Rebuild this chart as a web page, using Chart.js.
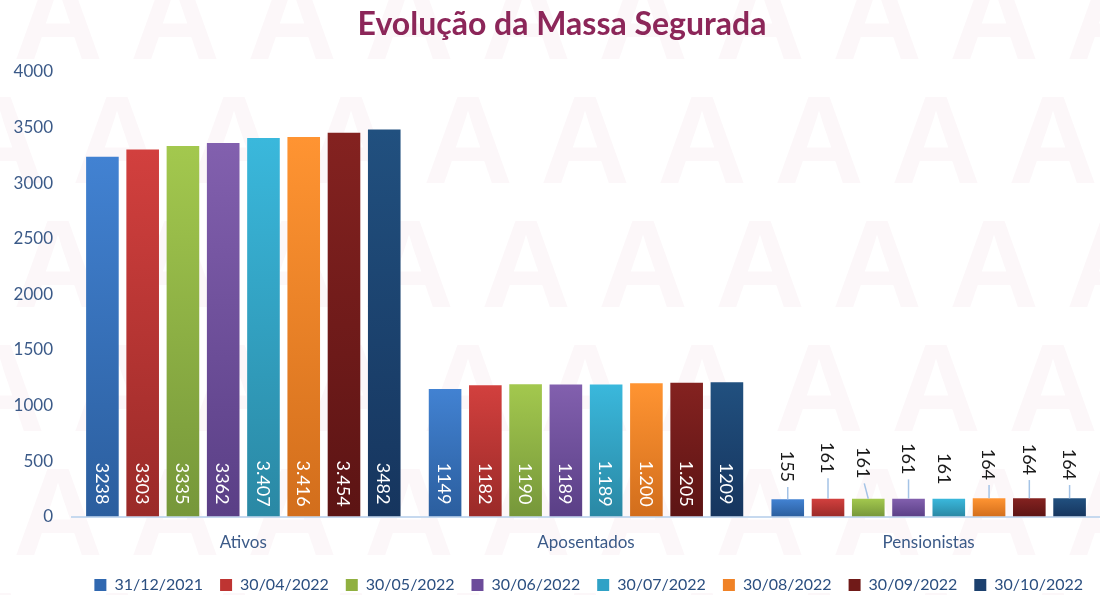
<!DOCTYPE html>
<html>
<head>
<meta charset="utf-8">
<script src="https://cdn.jsdelivr.net/npm/chart.js@4.4.1/dist/chart.umd.min.js"></script>
<style>
  html, body { margin: 0; padding: 0; background: #ffffff; }
  #wrap { width: 1100px; height: 595px; position: relative; }
</style>
</head>
<body>
<div id="wrap"><canvas id="c" width="1100" height="595"></canvas></div>
<script>
// ---- data ----
const categories = ["Ativos", "Aposentados", "Pensionistas"];
const seriesNames = ["31/12/2021", "30/04/2022", "30/05/2022", "30/06/2022", "30/07/2022", "30/08/2022", "30/09/2022", "30/10/2022"];
const v20211231 = [3238, 1149, 155];
const v20220430 = [3303, 1182, 161];
const v20220530 = [3335, 1190, 161];
const v20220630 = [3362, 1189, 161];
const v20220730 = [3407, 1189, 161];
const v20220830 = [3416, 1200, 164];
const v20220930 = [3454, 1205, 164];
const v20221030 = [3482, 1209, 164];
const yTicks = [0, 500, 1000, 1500, 2000, 2500, 3000, 3500, 4000];
// label formatting: some series show a thousands dot
const dottedSeries = [false, false, false, false, true, true, true, false];

// ---- styles ----
const topColors    = ["#4282d2", "#d2403e", "#a3c84e", "#8260ae", "#3ab8dc", "#ff9432", "#842220", "#21507f"];
const bottomColors = ["#2b5e9e", "#9a2a28", "#76973a", "#5a3f86", "#2a88a4", "#d26e1c", "#5c1414", "#16355e"];
const legendColors = ["#3068b0", "#be3432", "#90b040", "#6c4c9a", "#30a2c6", "#f08226", "#701a18", "#1c406e"];
// Pensionistas label placement (distance above bar top, horizontal shift, leader line)
const pensLift = [33, 41, 36, 40, 30, 34, 39, 34];
const pensShift = [0, 0, -4, 0, -4, 0, 0, 0];
const pensLeader = [1, 1, 1, 1, 0, 1, 1, 1];

const allSeries = [v20211231, v20220430, v20220530, v20220630, v20220730, v20220830, v20220930, v20221030];
const FONT = "Lato, 'Open Sans', sans-serif";
const AXIS_COLOR = "#3b5a88";

function fmt(v, dotted) {
  const s = String(v);
  if (dotted && v >= 1000) return s.slice(0, s.length - 3) + "." + s.slice(s.length - 3);
  return s;
}

function barGradient(i) {
  return function(ctx) {
    const chart = ctx.chart;
    const ys = chart.scales && chart.scales.y;
    if (!chart.chartArea || !ys || ctx.type !== 'data') return topColors[i];
    const v = ctx.raw;
    const yTop = ys.getPixelForValue(v);
    const yBase = ys.getPixelForValue(0);
    if (!isFinite(yTop) || !isFinite(yBase) || yBase - yTop < 1) return topColors[i];
    const g = chart.ctx.createLinearGradient(0, yTop, 0, yBase);
    g.addColorStop(0, topColors[i]);
    g.addColorStop(1, bottomColors[i]);
    return g;
  };
}

const watermark = {
  id: 'watermark',
  beforeDraw(chart) {
    const ctx = chart.ctx;
    ctx.save();
    ctx.fillStyle = "rgba(165, 40, 80, 0.035)";
    ctx.font = "bold 124px 'Liberation Sans', Arial, sans-serif";
    ctx.textAlign = "center";
    ctx.textBaseline = "alphabetic";
    const rowTops = [-31, 93, 217, 341, 465, 589];
    rowTops.forEach((t, r) => {
      const off = (r % 2 === 0) ? 58 : 0;
      for (let x = off - 117; x < 1220; x += 117) {
        ctx.fillText("A", x, t + 90);
      }
    });
    ctx.restore();
  }
};

const titlePlugin = {
  id: 'customTitle',
  afterDraw(chart) {
    const ctx = chart.ctx;
    ctx.save();
    ctx.fillStyle = "#8c2659";
    ctx.font = "bold 32px " + FONT;
    ctx.textAlign = "center";
    ctx.textBaseline = "middle";
    ctx.fillText("Evolução da Massa Segurada", 562, 25);
    ctx.restore();
  }
};

const labelPlugin = {
  id: 'barLabels',
  afterDatasetsDraw(chart) {
    const ctx = chart.ctx;
    ctx.save();
    ctx.font = "18px " + FONT;
    ctx.textAlign = "center";
    ctx.textBaseline = "middle";
    chart.data.datasets.forEach((ds, i) => {
      const meta = chart.getDatasetMeta(i);
      meta.data.forEach((bar, j) => {
        const txt = fmt(ds.data[j], dottedSeries[i] && j < 2);
        if (j < 2) {
          ctx.save();
          ctx.translate(bar.x, bar.base - 33);
          ctx.rotate(Math.PI / 2);
          ctx.fillStyle = "#ffffff";
          ctx.fillText(txt, 0, 1);
          ctx.restore();
        } else {
          const lx = bar.x + pensShift[i];
          const ly = bar.y - pensLift[i];
          const half = ctx.measureText(txt).width / 2;
          if (pensLeader[i]) {
            ctx.save();
            ctx.strokeStyle = "#a4c3e6";
            ctx.lineWidth = 1.5;
            ctx.beginPath();
            ctx.moveTo(lx, ly + half + 5);
            ctx.lineTo(bar.x, bar.y);
            ctx.stroke();
            ctx.restore();
          }
          ctx.save();
          ctx.translate(lx, ly);
          ctx.rotate(Math.PI / 2);
          ctx.fillStyle = "#1a1a1a";
          ctx.fillText(txt, 0, 1);
          ctx.restore();
        }
      });
    });
    ctx.restore();
  }
};

new Chart(document.getElementById('c'), {
  type: 'bar',
  data: {
    labels: categories,
    datasets: allSeries.map((vals, i) => ({
      label: seriesNames[i],
      data: vals,
      backgroundColor: barGradient(i),
      borderWidth: 0,
      categoryPercentage: 0.94,
      barPercentage: 0.81
    }))
  },
  options: {
    responsive: false,
    animation: false,
    events: [],
    layout: { padding: { top: 72, right: -4, left: 0, bottom: -8 } },
    plugins: {
      title: { display: false },
      tooltip: { enabled: false },
      legend: {
        display: true,
        position: 'bottom',
        fullSize: false,
        align: 'end',
        labels: {
          boxWidth: 12,
          boxHeight: 12,
          padding: 17,
          color: "#2b4f80",
          font: { family: FONT, size: 16 },
          generateLabels(chart) {
            return chart.data.datasets.map((ds, i) => ({
              text: ds.label,
              fillStyle: legendColors[i],
              strokeStyle: legendColors[i],
              lineWidth: 0,
              hidden: false,
              datasetIndex: i,
              fontColor: "#2b4f80"
            }));
          }
        }
      }
    },
    scales: {
      x: {
        afterFit(scale) { scale.height -= 9; },
        grid: { display: false, drawTicks: false },
        border: { display: true, color: "#c6d9ef", width: 2 },
        ticks: { color: AXIS_COLOR, font: { family: FONT, size: 17 }, padding: 16 }
      },
      y: {
        min: 0,
        max: 4000,
        afterBuildTicks(scale) { scale.ticks = yTicks.map(v => ({ value: v })); },
        afterFit(scale) { scale.width = 72; },
        grid: { display: false, drawTicks: false },
        border: { display: false },
        ticks: { color: AXIS_COLOR, font: { family: FONT, size: 17 }, padding: 19, callback: (v) => String(v) }
      }
    }
  },
  plugins: [watermark, labelPlugin, titlePlugin]
});
</script>
</body>
</html>
